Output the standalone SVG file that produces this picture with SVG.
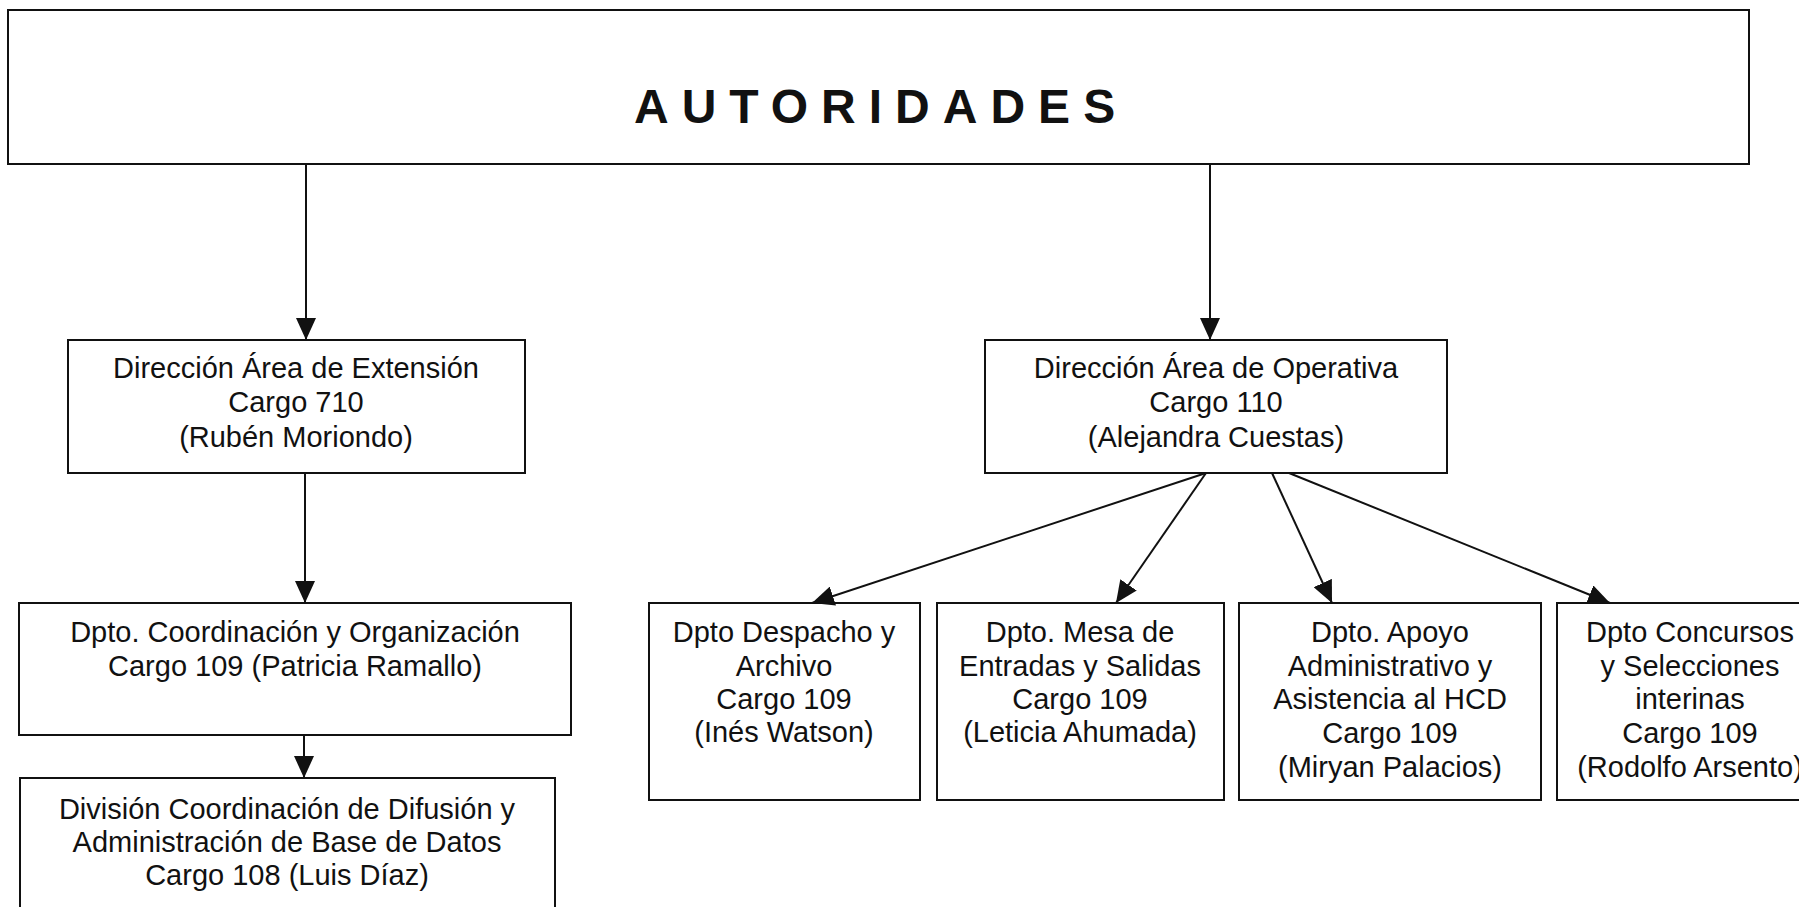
<svg xmlns="http://www.w3.org/2000/svg" width="1799" height="907" viewBox="0 0 1799 907">
<style>
.box{fill:#fff;stroke:#111;stroke-width:2}
.t{font-family:"Liberation Sans",Arial,sans-serif;font-size:29px;fill:#111;text-anchor:middle}
.title{font-family:"Liberation Sans",Arial,sans-serif;font-size:48px;font-weight:bold;fill:#111;letter-spacing:13px}
.c{stroke:#111;stroke-width:2;fill:none;marker-end:url(#ah)}
</style>
<defs>
<marker id="ah" markerUnits="userSpaceOnUse" markerWidth="22" markerHeight="20" viewBox="0 0 22 20" refX="22" refY="10" orient="auto">
<path d="M0,0 L22,10 L0,20 z" fill="#111"/>
</marker>
</defs>
<rect width="1799" height="907" fill="#fff"/>
<g id="autoridades">
<rect class="box" x="8" y="10" width="1741" height="154"/>
<text class="title" x="634" y="123">AUTORIDADES</text>
</g>
<g id="dir-extension">
<rect class="box" x="68" y="340" width="457" height="133"/>
<text class="t" x="296" y="378">Dirección Área de Extensión</text>
<text class="t" x="296" y="412">Cargo 710</text>
<text class="t" x="296" y="447">(Rubén Moriondo)</text>
</g>
<g id="dir-operativa">
<rect class="box" x="985" y="340" width="462" height="133"/>
<text class="t" x="1216" y="378">Dirección Área de Operativa</text>
<text class="t" x="1216" y="412">Cargo 110</text>
<text class="t" x="1216" y="447">(Alejandra Cuestas)</text>
</g>
<g id="dpto-coordinacion">
<rect class="box" x="19" y="603" width="552" height="132"/>
<text class="t" x="295" y="642">Dpto. Coordinación y Organización</text>
<text class="t" x="295" y="676">Cargo 109 (Patricia Ramallo)</text>
</g>
<g id="division-difusion">
<rect class="box" x="20" y="778" width="535" height="160"/>
<text class="t" x="287" y="819">División Coordinación de Difusión y</text>
<text class="t" x="287" y="852">Administración de Base de Datos</text>
<text class="t" x="287" y="885">Cargo 108 (Luis Díaz)</text>
</g>
<g id="dpto-despacho">
<rect class="box" x="649" y="603" width="271" height="197"/>
<text class="t" x="784" y="642">Dpto Despacho y</text>
<text class="t" x="784" y="676">Archivo</text>
<text class="t" x="784" y="709">Cargo 109</text>
<text class="t" x="784" y="742">(Inés Watson)</text>
</g>
<g id="dpto-mesa">
<rect class="box" x="937" y="603" width="287" height="197"/>
<text class="t" x="1080" y="642">Dpto. Mesa de</text>
<text class="t" x="1080" y="676">Entradas y Salidas</text>
<text class="t" x="1080" y="709">Cargo 109</text>
<text class="t" x="1080" y="742">(Leticia Ahumada)</text>
</g>
<g id="dpto-apoyo">
<rect class="box" x="1239" y="603" width="302" height="197"/>
<text class="t" x="1390" y="642">Dpto. Apoyo</text>
<text class="t" x="1390" y="676">Administrativo y</text>
<text class="t" x="1390" y="709">Asistencia al HCD</text>
<text class="t" x="1390" y="743">Cargo 109</text>
<text class="t" x="1390" y="777">(Miryan Palacios)</text>
</g>
<g id="dpto-concursos">
<rect class="box" x="1557" y="603" width="280" height="197"/>
<text class="t" x="1690" y="642">Dpto Concursos</text>
<text class="t" x="1690" y="676">y Selecciones</text>
<text class="t" x="1690" y="709">interinas</text>
<text class="t" x="1690" y="743">Cargo 109</text>
<text class="t" x="1690" y="777">(Rodolfo Arsento)</text>
</g>
<g id="connectors">
<line class="c" x1="306" y1="164" x2="306" y2="340"/>
<line class="c" x1="1210" y1="164" x2="1210" y2="340"/>
<line class="c" x1="305" y1="473" x2="305" y2="603"/>
<line class="c" x1="304" y1="735" x2="304" y2="778"/>
<line class="c" x1="1206" y1="473" x2="812" y2="603"/>
<line class="c" x1="1206" y1="473" x2="1116" y2="603"/>
<line class="c" x1="1272" y1="473" x2="1332" y2="603"/>
<line class="c" x1="1289" y1="473" x2="1610" y2="603"/>
</g>
</svg>
